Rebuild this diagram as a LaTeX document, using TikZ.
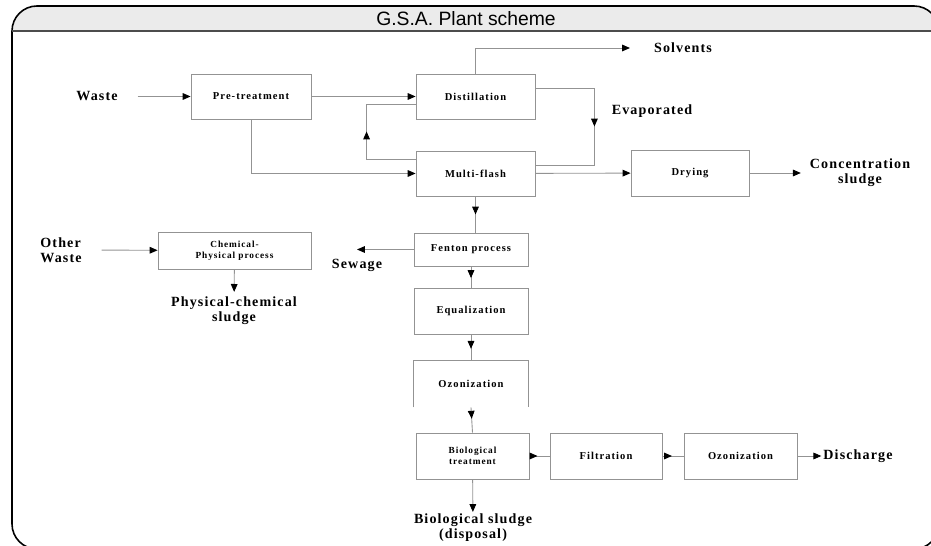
\documentclass[tikz,border=0pt]{standalone}
\usepackage{fontspec}
\setmainfont{Liberation Serif}
\newfontfamily\lblfont[LetterSpace=8]{Liberation Serif}
\newfontfamily\boxfont[LetterSpace=10]{Liberation Serif}
\newfontfamily\titlefont{Liberation Sans}
\usetikzlibrary{arrows.meta,calc,decorations.markings}

\begin{document}
\begin{tikzpicture}[
    x=0.02cm, y=-0.02cm,
    process/.style={
        rectangle,
        draw=gray!85,
        line width=0.5pt,
        minimum width=2.4cm,
        minimum height=0.9cm,
        align=center,
        font=\boxfont\bfseries\fontsize{6}{7}\selectfont
    },
    small/.style={
        font=\boxfont\bfseries\fontsize{5.3}{6.2}\selectfont
    },
    outlabel/.style={
        align=center,
        inner sep=1pt,
        font=\lblfont\bfseries\fontsize{8}{8.6}\selectfont
    },
    flow/.style={
        draw=gray!85,
        line width=0.5pt
    },
    arrow/.style={
        flow,
        -{Triangle[length=4.5pt,width=3.8pt,color=black]}
    },
    midarrow/.style={
        flow,
        postaction={decorate},
        decoration={markings,
            mark=at position #1 with {\arrow{Triangle[length=4.5pt,width=3.8pt,color=black]}}}
    }
]
\useasboundingbox (0,0) rectangle (931,546);
\clip (0,0) rectangle (931,546);

% Frame and header
\begin{scope}
    \clip[rounded corners=0.5cm] (12,6) rectangle (939,549);
    \fill[black!8] (0,0) rectangle (940,31);
\end{scope}
\draw[rounded corners=0.5cm, line width=0.9pt] (12,6) rectangle (939,549);
\draw[gray!60!black, line width=1.1pt] (12,31) -- (939,31);
\node[font=\titlefont\fontsize{11}{12}\selectfont] (title) at (466,19) {G.S.A. Plant scheme};

% Main line
\node[process] (pre) at (251,96.5) {Pre-treatment};
\node[process, minimum width=2.38cm] (dist) at (475.5,96.5) {Distillation};
\node[process, minimum width=2.38cm] (multi) at (475.5,173.5) {Multi-flash};
\node[process, minimum width=2.36cm, minimum height=0.92cm] (dry) at (690,173) {Drying};
\node[process, minimum width=2.28cm, minimum height=0.66cm] (fenton) at (471,249.5) {Fenton process};
\node[process, minimum width=2.28cm, minimum height=0.92cm] (equal) at (471,311) {Equalization};
\node[process, draw=none, minimum width=2.28cm, minimum height=0.92cm] (ozone) at (471,384) {Ozonization};
\node[process, small, minimum width=2.26cm, minimum height=0.92cm] (bio) at (472.5,456) {Biological\\treatment};
\node[process, minimum width=2.24cm, minimum height=0.92cm] (filt) at (606,456) {Filtration};
\node[process, minimum width=2.26cm, minimum height=0.92cm] (ozonetwo) at (740.5,456) {Ozonization};
\draw[flow] (ozone.south west) -- (ozone.north west) -- (ozone.north east) -- (ozone.south east);

% Side line
\node[process, small, minimum width=3.06cm, minimum height=0.74cm] (chem) at (234.5,250.5) {Chemical-\\Physical process};

% Inputs and outputs
\node[outlabel] (waste) at (97,96.5) {Waste};
\node[outlabel] (solv) at (683,48) {Solvents};
\node[outlabel] (evap) at (652,111) {Evaporated};
\node[outlabel] (conc) at (860,173) {Concentration\\sludge};
\node[outlabel, align=left] (other) at (61,250) {Other\\Waste};
\node[outlabel] (sewage) at (357,265) {Sewage};
\node[outlabel] (physl) at (234,311) {Physical-chemical\\sludge};
\node[outlabel] (biosl) at (473,528) {Biological sludge\\(disposal)};
\node[outlabel] (disch) at (858,456) {Discharge};

% Connectors
\draw[arrow, shorten <=0.36cm] (waste) -- (pre);
\draw[arrow] (pre) -- (dist);
\draw[arrow] (pre.south) |- (multi.west);
\draw[midarrow=0.5] ($(multi.west)+(0,-14.5)$) -| ($(dist.west)+(-49,7.5)$) -- ($(dist.west)+(0,7.5)$);
\draw[arrow, shorten >=0.44cm] (dist.north) |- (solv.west);
\draw[midarrow=0.5] ($(dist.east)+(0,-8.5)$) -| ($(multi.east)+(59,-8.5)$) -- ($(multi.east)+(0,-8.5)$);
\draw[arrow] (multi) -- (dry);
\draw[arrow, shorten >=0.14cm] (dry) -- (conc);
\draw[midarrow=0.5] (multi.south) -- (multi.south |- fenton.north);
\draw[midarrow=0.55] (fenton) -- (equal);
\draw[midarrow=0.55] (equal) -- (ozone.north);
\draw[midarrow=0.45] (ozone.south) -- (bio.north);
\draw[arrow] (fenton.west) -- (fenton.west -| sewage);
\draw[arrow, shorten <=0.36cm] (other) -- (chem);
\draw[arrow, shorten >=0.06cm] (chem) -- (physl);
\draw[arrow] (bio) -- (biosl);
\draw[midarrow=0.4] (bio) -- (filt);
\draw[midarrow=0.45] (filt) -- (ozonetwo);
\draw[arrow] (ozonetwo) -- (disch);

\end{tikzpicture}
\end{document}
